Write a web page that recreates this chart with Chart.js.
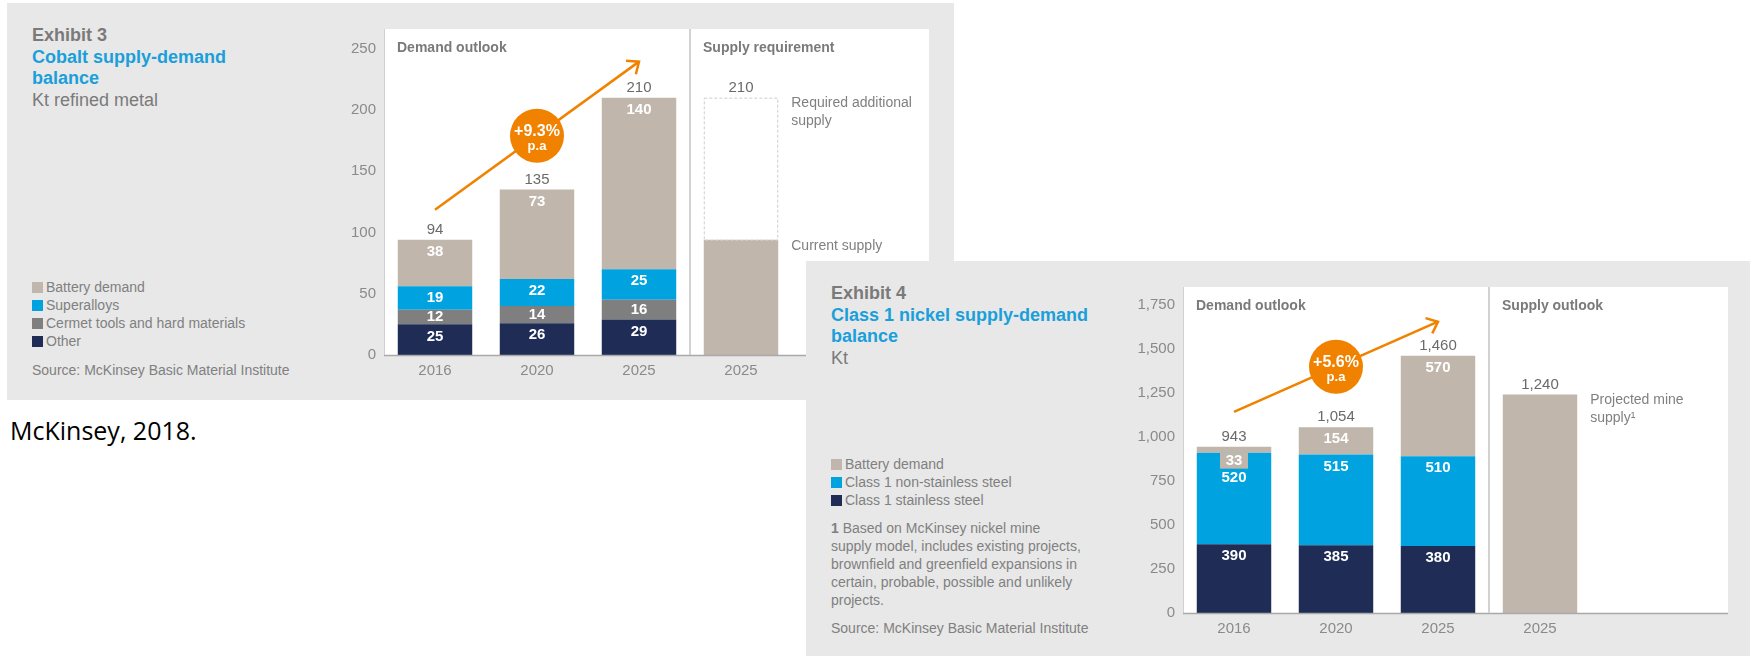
<!DOCTYPE html>
<html>
<head>
<meta charset="utf-8">
<script src="https://cdn.jsdelivr.net/npm/chart.js@4.4.0/dist/chart.umd.min.js"></script>
<style>
  html, body { margin: 0; padding: 0; width: 1750px; height: 656px; overflow: hidden; background: #fff;
    font-family: "Liberation Sans", Arial, sans-serif; }
  .panel { position: absolute; width: 947px; height: 397px; background: #e8e8e8; }
  #ex3 { left: 7px; top: 3px; }
  #ex4 { left: 806px; top: 261px; }
  .panel canvas { position: absolute; left: 323px; top: 0; }
  .title { position: absolute; left: 25px; top: 22px; font-size: 18px; line-height: 21.5px; color: #7a7a7a; }
  .title .blue { color: #1a9fdb; font-weight: bold; }
  .legend, .note, .source { position: absolute; left: 25px; font-size: 14px; line-height: 18px; color: #808080; }
  .legend .sw { display: inline-block; width: 11px; height: 11px; margin-right: 3px; vertical-align: -1px; }
  #cite { position: absolute; left: 10px; top: 418px; font-family: "Open Sans", sans-serif; font-size: 25px;
    line-height: 25px; color: #000; }
</style>
</head>
<body>

<div class="panel" id="ex3">
  <div class="title"><b>Exhibit 3</b><br><span class="blue">Cobalt supply-demand<br>balance</span><br>Kt refined metal</div>
  <div class="legend" id="legend3" style="top:275px"></div>
  <div class="source" style="top:358px">Source: McKinsey Basic Material Institute</div>
  <canvas id="cobaltChart" width="610" height="397"></canvas>
</div>

<div id="cite">McKinsey, 2018.</div>

<div class="panel" id="ex4">
  <div class="title"><b>Exhibit 4</b><br><span class="blue">Class 1 nickel supply-demand<br>balance</span><br>Kt</div>
  <div class="legend" id="legend4" style="top:194px"></div>
  <div class="note" style="top:258px"><b>1</b> Based on McKinsey nickel mine<br>supply model, includes existing projects,<br>brownfield and greenfield expansions in<br>certain, probable, possible and unlikely<br>projects.</div>
  <div class="source" style="top:358px">Source: McKinsey Basic Material Institute</div>
  <canvas id="nickelChart" width="610" height="397"></canvas>
</div>

<script>
// categories (demand years + one supply bar)
const YEARS = ['2016', '2020', '2025', '2025'];

// Exhibit 3 - cobalt, Kt refined metal
const CO_OTHER = [25, 26, 29, null];
const CO_CERMET = [12, 14, 16, null];
const CO_SUPERALLOYS = [19, 22, 25, null];
const CO_BATTERY = [38, 73, 140, null];
const CO_CURRENT_SUPPLY = [null, null, null, 94];
const CO_REQUIRED_SUPPLY = [null, null, null, 116];
const CO_TICKS = [0, 50, 100, 150, 200, 250];

// Exhibit 4 - class 1 nickel, Kt
const NI_STAINLESS = [390, 385, 380, null];
const NI_NON_STAINLESS = [520, 515, 510, null];
const NI_BATTERY = [33, 154, 570, null];
const NI_MINE_SUPPLY = [null, null, null, 1240];
const NI_TICKS = [0, 250, 500, 750, 1000, 1250, 1500, 1750];

const BEIGE = '#c1b6ab';
const BLUE = '#00a3e0';
const GREY = '#7f7f7f';
const NAVY = '#1f2c56';
const ORANGE = '#f08200';
const FONT = '"Liberation Sans", Arial, sans-serif';

Chart.defaults.font.family = FONT;

function fmt(v) {
  return String(v).replace(/\B(?=(\d{3})+(?!\d))/g, ',');
}

// draws the white plot panel, dividers, labels, arrow etc.
function panelPlugin(spec) {
  return {
    id: 'panel',
    beforeDraw(chart) {
      const { ctx, chartArea: a } = chart;
      ctx.save();
      ctx.fillStyle = '#fff';
      ctx.fillRect(a.left, a.top, a.right - a.left + spec.extra, a.bottom - a.top);
      ctx.restore();
    },
    afterDatasetsDraw(chart) {
      const { ctx, chartArea: a } = chart;
      const xs = chart.scales.x, ys = chart.scales.y;
      const sets = chart.data.datasets;
      ctx.save();

      // baseline and divider
      ctx.strokeStyle = '#a9a9a9';
      ctx.lineWidth = 1.5;
      ctx.beginPath();
      ctx.moveTo(a.left, a.bottom + 0.5);
      ctx.lineTo(a.right + spec.extra, a.bottom + 0.5);
      ctx.stroke();
      const divX = (xs.getPixelForValue(2) + xs.getPixelForValue(3)) / 2;
      ctx.strokeStyle = '#d2d2d2';
      ctx.lineWidth = 2;
      ctx.beginPath();
      ctx.moveTo(divX, a.top);
      ctx.lineTo(divX, a.bottom);
      ctx.stroke();

      // section headers
      ctx.fillStyle = '#7a7a7a';
      ctx.font = 'bold 14px ' + FONT;
      ctx.textAlign = 'left';
      ctx.textBaseline = 'middle';
      ctx.fillText(spec.headers[0], a.left + 13, a.top + 19);
      ctx.fillText(spec.headers[1], divX + 13, a.top + 19);

      // dashed outline for the required supply
      sets.forEach((ds, di) => {
        if (!ds.dashed) return;
        chart.getDatasetMeta(di).data.forEach((el, i) => {
          if (ds.data[i] == null) return;
          ctx.strokeStyle = '#cdcdcd';
          ctx.lineWidth = 1;
          ctx.setLineDash([3, 2]);
          ctx.strokeRect(el.x - el.width / 2 + 0.5, el.y + 0.5, el.width - 1, el.base - el.y);
          ctx.setLineDash([]);
        });
      });

      // segment labels: thin segments get a small tab below them,
      // and the label of the segment underneath moves down past it
      const labels = [];
      const tabBottom = {};
      sets.forEach((ds, di) => {
        if (!ds.seg) return;
        chart.getDatasetMeta(di).data.forEach((el, i) => {
          const v = ds.data[i];
          if (v == null) return;
          const h = el.base - el.y;
          if (h < 10) {
            ctx.fillStyle = ds.backgroundColor;
            ctx.fillRect(el.x - 14, el.base, 28, 16);
            tabBottom[i] = el.base + 16;
            labels.push({ text: fmt(v), x: el.x, y: el.base + 8, tab: true, i });
          } else {
            labels.push({ text: fmt(v), x: el.x, y: h < 24 ? el.y + h / 2 : el.y + 12, top: el.y, i });
          }
        });
      });
      ctx.textAlign = 'center';
      ctx.fillStyle = '#fff';
      ctx.font = 'bold 15px ' + FONT;
      labels.forEach(l => {
        let y = l.y;
        if (!l.tab && tabBottom[l.i] != null && l.top < tabBottom[l.i]) {
          y = Math.max(y, tabBottom[l.i] + 9);
        }
        ctx.fillText(l.text, l.x, y);
      });

      // totals above bars
      const totals = YEARS.map((_, i) => sets.reduce((s, ds) => s + (ds.data[i] || 0), 0));
      ctx.fillStyle = '#6a6a6a';
      ctx.font = '15px ' + FONT;
      totals.forEach((t, i) => {
        ctx.fillText(fmt(t), xs.getPixelForValue(i), ys.getPixelForValue(t) - 10);
      });

      // notes beside the supply bar
      ctx.fillStyle = '#808080';
      ctx.font = '14px ' + FONT;
      ctx.textAlign = 'left';
      sets.forEach((ds, di) => {
        if (!ds.note) return;
        const el = chart.getDatasetMeta(di).data[3];
        ds.note.forEach((line, k) => {
          ctx.fillText(line, el.x + el.width / 2 + 13, el.y + 6 + k * 18);
        });
      });

      // growth arrow with bubble
      const xa = xs.getPixelForValue(0), xb = xs.getPixelForValue(2);
      const ya = ys.getPixelForValue(totals[0]) - spec.startGap;
      const yb = ys.getPixelForValue(totals[2]) - spec.endGap;
      ctx.strokeStyle = ORANGE;
      ctx.lineWidth = 2.5;
      ctx.beginPath();
      ctx.moveTo(xa, ya);
      ctx.lineTo(xb, yb);
      ctx.stroke();
      const ang = Math.atan2(yb - ya, xb - xa);
      ctx.beginPath();
      ctx.moveTo(xb - 13 * Math.cos(ang - 0.7), yb - 13 * Math.sin(ang - 0.7));
      ctx.lineTo(xb, yb);
      ctx.lineTo(xb - 13 * Math.cos(ang + 0.7), yb - 13 * Math.sin(ang + 0.7));
      ctx.stroke();
      const mx = (xa + xb) / 2, my = (ya + yb) / 2;
      ctx.fillStyle = ORANGE;
      ctx.beginPath();
      ctx.arc(mx, my, 27, 0, Math.PI * 2);
      ctx.fill();
      ctx.fillStyle = '#fff';
      ctx.textAlign = 'center';
      ctx.font = 'bold 16px ' + FONT;
      ctx.fillText(spec.growth, mx, my - 4);
      ctx.font = 'bold 13px ' + FONT;
      ctx.fillText('p.a', mx, my + 11);

      ctx.restore();
    }
  };
}

function makeChart(id, datasets, spec) {
  return new Chart(document.getElementById(id), {
    type: 'bar',
    data: { labels: YEARS, datasets: datasets },
    options: {
      responsive: false,
      animation: false,
      layout: { padding: { top: 26, right: 148, left: 0, bottom: 0 } },
      datasets: { bar: { categoryPercentage: 1, barPercentage: 0.73, borderWidth: 0 } },
      plugins: { legend: { display: false }, tooltip: { enabled: false } },
      scales: {
        x: {
          stacked: true,
          grid: { display: false, drawTicks: false },
          border: { display: false },
          ticks: { color: '#8a8a8a', font: { size: 15 }, padding: 7, maxRotation: 0 },
          afterFit: s => { s.height = 45; }
        },
        y: {
          stacked: true,
          min: 0,
          max: spec.max,
          grid: { display: false, drawTicks: false },
          border: { color: '#d0d0d0' },
          ticks: { color: '#8a8a8a', font: { size: 15 }, padding: 8, callback: v => fmt(v) },
          afterBuildTicks: s => { s.ticks = spec.ticks.map(v => ({ value: v })); },
          afterFit: s => { s.width = 54; }
        }
      }
    },
    plugins: [panelPlugin(spec)]
  });
}

function buildLegend(elId, datasets) {
  const box = document.getElementById(elId);
  datasets.filter(d => d.legend).reverse().forEach(d => {
    const row = document.createElement('div');
    row.innerHTML = '<span class="sw" style="background:' + d.backgroundColor + '"></span>' + d.label;
    box.appendChild(row);
  });
}

const cobaltSets = [
  { label: 'Other', data: CO_OTHER, backgroundColor: NAVY, legend: true, seg: true },
  { label: 'Cermet tools and hard materials', data: CO_CERMET, backgroundColor: GREY, legend: true, seg: true },
  { label: 'Superalloys', data: CO_SUPERALLOYS, backgroundColor: BLUE, legend: true, seg: true },
  { label: 'Battery demand', data: CO_BATTERY, backgroundColor: BEIGE, legend: true, seg: true },
  { label: 'Current supply', data: CO_CURRENT_SUPPLY, backgroundColor: BEIGE, note: ['Current supply'] },
  { label: 'Required additional supply', data: CO_REQUIRED_SUPPLY, backgroundColor: 'rgba(0,0,0,0)',
    dashed: true, note: ['Required additional', 'supply'] }
];

const nickelSets = [
  { label: 'Class 1 stainless steel', data: NI_STAINLESS, backgroundColor: NAVY, legend: true, seg: true },
  { label: 'Class 1 non-stainless steel', data: NI_NON_STAINLESS, backgroundColor: BLUE, legend: true, seg: true },
  { label: 'Battery demand', data: NI_BATTERY, backgroundColor: BEIGE, legend: true, seg: true },
  { label: 'Projected mine supply', data: NI_MINE_SUPPLY, backgroundColor: BEIGE, note: ['Projected mine', 'supply\u00b9'] }
];

buildLegend('legend3', cobaltSets);
buildLegend('legend4', nickelSets);

makeChart('cobaltChart', cobaltSets, {
  max: 266, ticks: CO_TICKS, extra: 137, growth: '+9.3%', startGap: 30, endGap: 36,
  headers: ['Demand outlook', 'Supply requirement']
});
makeChart('nickelChart', nickelSets, {
  max: 1850, ticks: NI_TICKS, extra: 137, growth: '+5.6%', startGap: 35, endGap: 34,
  headers: ['Demand outlook', 'Supply outlook']
});
</script>
</body>
</html>
